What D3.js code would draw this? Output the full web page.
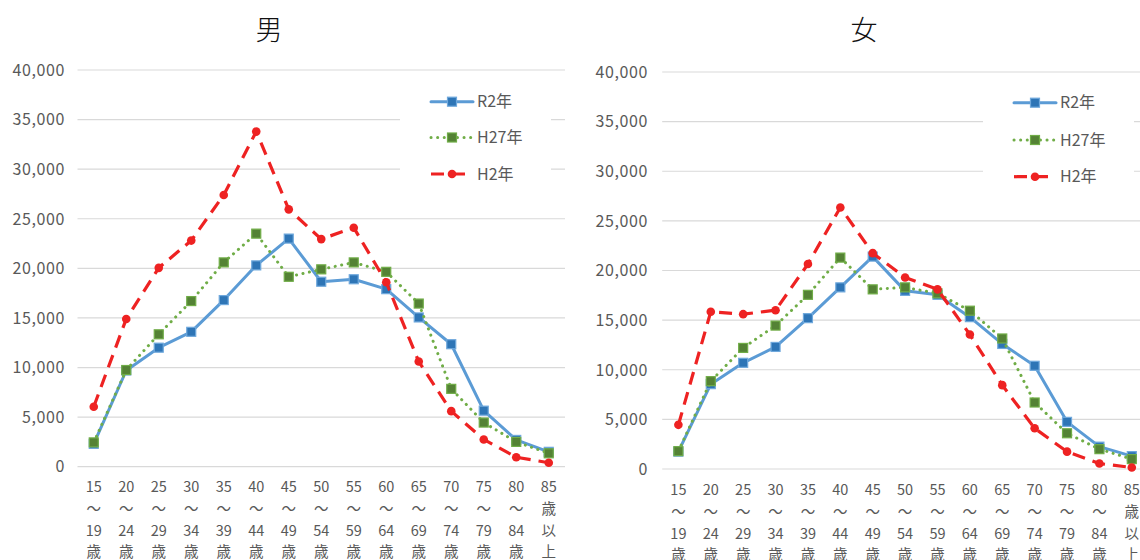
<!DOCTYPE html>
<html>
<head>
<meta charset="utf-8">
<script src="https://cdn.jsdelivr.net/npm/d3@7"></script>
<style>
  html, body { margin: 0; padding: 0; background: #fff; overflow: hidden; }
  svg { display: block; }
  text { font-family: "Noto Sans CJK JP", "Noto Sans", sans-serif; }
</style>
</head>
<body>
<svg id="chart" width="1140" height="560"></svg>
<script>
// ---- data ----
const categories = [
  ["15","～","19","歳"],["20","～","24","歳"],["25","～","29","歳"],["30","～","34","歳"],
  ["35","～","39","歳"],["40","～","44","歳"],["45","～","49","歳"],["50","～","54","歳"],
  ["55","～","59","歳"],["60","～","64","歳"],["65","～","69","歳"],["70","～","74","歳"],
  ["75","～","79","歳"],["80","～","84","歳"],["85","歳","以","上"]
];
const seriesNames = ["R2年", "H27年", "H2年"];
const yTicks = [0, 5000, 10000, 15000, 20000, 25000, 30000, 35000, 40000];

const maleR2  = [2300, 9700, 12000, 13600, 16800, 20300, 23000, 18650, 18900, 17900, 15050, 12350, 5650, 2700, 1500];
const maleH27 = [2450, 9750, 13350, 16700, 20600, 23500, 19150, 19900, 20600, 19650, 16450, 7850, 4450, 2500, 1350];
const maleH2  = [6050, 14900, 20050, 22800, 27400, 33800, 25950, 22950, 24100, 18600, 10600, 5600, 2750, 950, 400];

const femaleR2  = [1750, 8550, 10700, 12300, 15200, 18300, 21400, 17950, 17550, 15300, 12600, 10400, 4750, 2250, 1300];
const femaleH27 = [1800, 8850, 12200, 14450, 17550, 21300, 18100, 18300, 17700, 15950, 13150, 6700, 3600, 2000, 1000];
const femaleH2  = [4450, 15850, 15600, 16000, 20650, 26350, 21750, 19300, 18100, 13550, 8450, 4100, 1750, 550, 150];

// ---- drawing ----
const svg = d3.select("#chart");
const styles = [
  {color: "#5B9BD5", width: 3, dash: null, cap: "round", marker: "square", mfill: "#2E75B6", mstroke: "#6FA8DC"},
  {color: "#70AD47", width: 3, dash: "0.1,6.5", cap: "round", marker: "square", mfill: "#548235", mstroke: "#70AD47"},
  {color: "#EE2222", width: 3.2, dash: "13,8", cap: "butt", marker: "circle", mfill: "#EE2222", mstroke: "#EE2222"}
];

function drawChart(cfg) {
  const g = svg.append("g");
  const x = d3.scaleBand().domain(d3.range(categories.length)).range([cfg.x0, cfg.x1]);
  const y = d3.scaleLinear().domain([0, 40000]).range([cfg.y0, cfg.y1]);

  // gridlines
  g.append("g").selectAll("line").data(yTicks).join("line")
    .attr("x1", cfg.x0).attr("x2", cfg.x1)
    .attr("y1", d => y(d)).attr("y2", d => y(d))
    .attr("stroke", "#D9D9D9").attr("stroke-width", 1.2);

  // y tick labels
  g.append("g").selectAll("text").data(yTicks).join("text")
    .attr("x", cfg.yLabelX).attr("y", d => y(d))
    .attr("dy", "0.36em").attr("text-anchor", "end")
    .attr("font-size", 16).attr("fill", "#595959")
    .attr("letter-spacing", 0.6)
    .text(d => d3.format(",")(d));

  // x labels
  const xl = g.append("g").selectAll("text").data(categories).join("text")
    .attr("text-anchor", "middle").attr("font-size", 14.5).attr("fill", "#595959");
  xl.each(function(lines, i) {
    const t = d3.select(this);
    lines.forEach((s, k) => {
      t.append("tspan").attr("x", x(i) + x.bandwidth() / 2)
        .attr("y", cfg.xLabelY + k * 21.7).attr("dy", "0.36em").text(s);
    });
  });

  // title
  g.append("text").attr("x", cfg.titleX).attr("y", 30).attr("dy", "0.36em")
    .attr("text-anchor", "middle").attr("font-size", 27).attr("fill", "#111")
    .attr("font-family", "'Noto Serif CJK JP', 'Noto Sans CJK JP', serif")
    .style("font-weight", 300)
    .text(cfg.title);

  // legend background
  g.append("rect").attr("x", cfg.legX - 31).attr("y", cfg.legY[0] - 16)
    .attr("width", 151).attr("height", cfg.legY[2] - cfg.legY[0] + 32).attr("fill", "#fff");

  const cx = i => x(i) + x.bandwidth() / 2;
  const line = d3.line().x((d, i) => cx(i)).y(d => y(d));

  cfg.series.forEach((vals, si) => {
    const st = styles[si];
    g.append("path").datum(vals).attr("d", line)
      .attr("fill", "none").attr("stroke", st.color).attr("stroke-width", st.width)
      .attr("stroke-linejoin", "round").attr("stroke-linecap", st.cap)
      .attr("stroke-dasharray", st.dash);
    drawMarkers(g, vals.map((v, i) => [cx(i), y(v)]), st);
  });

  // legend
  seriesNames.forEach((name, si) => {
    const st = styles[si];
    const ly = cfg.legY[si];
    g.append("line").attr("x1", cfg.legX).attr("x2", cfg.legX + 42)
      .attr("y1", ly).attr("y2", ly)
      .attr("stroke", st.color).attr("stroke-width", st.width)
      .attr("stroke-linecap", st.cap).attr("stroke-dasharray", st.dash);
    drawMarkers(g, [[cfg.legX + 21, ly]], st);
    g.append("text").attr("x", cfg.legX + 46).attr("y", ly).attr("dy", "0.36em")
      .attr("font-size", 16).attr("fill", "#595959").text(name);
  });
}

function drawMarkers(g, pts, st) {
  if (st.marker === "square") {
    g.append("g").selectAll("rect").data(pts).join("rect")
      .attr("x", d => d[0] - 4.5).attr("y", d => d[1] - 4.5)
      .attr("width", 9).attr("height", 9)
      .attr("fill", st.mfill).attr("stroke", st.mstroke).attr("stroke-width", 1.2);
  } else {
    g.append("g").selectAll("circle").data(pts).join("circle")
      .attr("cx", d => d[0]).attr("cy", d => d[1]).attr("r", 4.3)
      .attr("fill", st.mfill);
  }
}

drawChart({
  title: "男", titleX: 269,
  x0: 77.5, x1: 565, y0: 466.7, y1: 70, yLabelX: 65,
  xLabelY: 487, legX: 431, legY: [101.7, 137.5, 174],
  series: [maleR2, maleH27, maleH2]
});
drawChart({
  title: "女", titleX: 864,
  x0: 662.2, x1: 1148, y0: 469, y1: 72, yLabelX: 648,
  xLabelY: 490, legX: 1014, legY: [102.7, 140, 176.7],
  series: [femaleR2, femaleH27, femaleH2]
});
</script>
</body>
</html>
